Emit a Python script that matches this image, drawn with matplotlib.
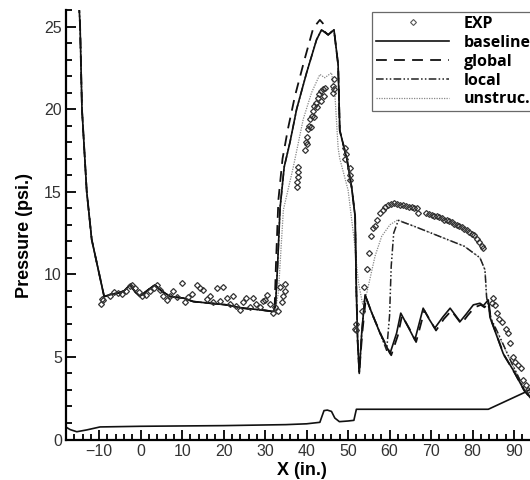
import matplotlib.pyplot as plt
from matplotlib.lines import Line2D
from matplotlib.ticker import MultipleLocator

plt.rcParams['font.family'] = ['Liberation Sans', 'DejaVu Sans']

# experimental points
exp_x = [-9.5, -9.3, -9.0, -7.5, -6.5, -5.4, -4.5, -3.5, -2.6, -2.0, -1.4, -0.5, 0.4, 1.4, 2.3, 3.2,
         3.9, 4.7, 5.5, 6.3, 7.1, 7.9, 8.7, 9.9, 10.7, 11.5, 12.3, 13.5, 14.3, 15.1, 15.9, 16.7,
         17.5, 18.3, 19.1, 19.9, 20.7, 21.5, 22.3, 23.1, 23.9, 24.7, 25.5, 26.3, 27.1, 27.9, 28.8,
         29.6, 30.0, 30.4, 31.2, 32.0, 32.5, 33.0, 33.6, 34.0, 34.4, 34.8, 34.8,
         37.8, 37.8, 37.9, 37.9, 38.0,
         39.6, 39.8, 40.0, 40.3, 40.6, 40.9, 41.2, 41.6, 41.9, 42.3, 42.7, 43.1, 43.5, 43.9, 44.4,
         40.2, 41.0, 41.8, 42.6, 43.4, 44.2,
         46.4, 46.4, 46.5, 46.6, 49.2, 49.4, 49.3, 50.4, 50.5, 50.5,
         51.7, 51.8, 52.0, 53.3, 53.9, 54.6, 55.1, 55.5, 56.0, 56.5, 57.0, 57.7, 58.3, 59.0, 59.7,
         60.4, 61.1, 61.8, 62.5, 63.2, 63.9, 64.6, 65.3, 66.0, 66.5, 66.9, 68.9, 69.5, 70.2, 70.8,
         71.4, 72.0, 72.6, 73.2, 73.8, 74.4, 75.0, 75.6, 76.2, 76.8, 77.4, 78.0, 78.6, 79.2, 79.8,
         80.4, 81.0, 81.6, 82.2, 82.6,
         84.6, 85.0, 85.4, 85.8, 86.5, 87.0, 88.0, 88.6, 89.0, 89.8, 90.2, 91.0, 91.8, 92.2, 93.0, 93.4]
exp_p = [8.2, 8.5, 8.45, 8.7, 8.9, 8.86, 8.8, 9.0, 9.3, 9.36, 9.2, 8.9, 8.7, 8.75, 9.0, 9.2,
         9.36, 9.06, 8.7, 8.45, 8.7, 8.96, 8.6, 9.47, 8.35, 8.6, 8.8, 9.36, 9.2, 9.06, 8.5, 8.7,
         8.3, 9.16, 8.4, 9.26, 8.56, 8.2, 8.66, 8.1, 7.85, 8.3, 8.56, 8.0, 8.56, 8.2, 8.05,
         8.4, 8.45, 8.76, 8.2, 7.65, 8.05, 7.8, 9.26, 8.3, 8.7, 9.0, 9.4,
         15.3, 15.6, 15.9, 16.2, 16.5,
         17.55, 18.0, 18.3, 18.8, 19.0, 19.4, 19.6, 19.9, 20.2, 20.4, 20.7, 20.9, 21.1, 21.2, 21.3,
         17.9, 18.9, 19.5, 20.1, 20.5, 20.8,
         21.0, 21.4, 21.8, 21.2, 17.65, 17.3, 17.0, 16.45, 16.0, 15.7,
         6.7, 7.0, 6.6, 7.75, 9.26, 10.3, 11.3, 12.3, 12.8, 12.9, 13.3, 13.7, 13.9, 14.1, 14.2,
         14.25, 14.3, 14.25, 14.2, 14.2, 14.15, 14.1, 14.05, 14.0, 14.0, 13.7, 13.7, 13.65, 13.6, 13.5,
         13.5, 13.45, 13.4, 13.3, 13.3, 13.2, 13.15, 13.05, 13.0, 12.9, 12.85, 12.75, 12.7, 12.55, 12.45,
         12.35, 12.15, 11.95, 11.7, 11.6,
         8.25, 8.55, 8.15, 7.65, 7.3, 7.14, 6.7, 6.43, 5.83, 5.02, 4.72, 4.5, 4.31, 3.6, 3.3, 3.0]

# baseline
base_x = [-14.9, -14.6, -14.15, -13.0, -11.8, -8.8, -7.0, -5.4, -4.0, -2.6, -1.2, -0.2, 1.5, 3.4, 5.0,
          7.1, 10.3, 12.7, 16.7, 20.7, 24.7, 28.8, 32.0, 32.5, 33.0, 33.6, 34.6, 36.0, 37.6, 40.0,
          42.4, 43.6, 45.2, 46.6, 47.6, 48.0, 49.7, 50.9, 51.7, 52.0, 52.3, 52.7, 53.3, 54.1, 55.5,
          57.7, 60.1, 61.7, 62.7, 64.5, 66.1, 68.1, 69.5, 70.9, 72.8, 74.6, 77.0, 78.5, 80.2, 81.8,
          82.6, 83.8, 84.2, 87.4, 89.8, 92.4, 95.0]
base_p = [26.5, 25.0, 20.0, 15.0, 12.1, 8.65, 8.8, 8.86, 9.0, 9.36, 8.9, 8.66, 9.0, 9.36, 9.0,
          8.66, 8.56, 8.35, 8.25, 8.15, 7.95, 7.85, 7.75, 8.1, 10.5, 14.0, 16.5, 18.0, 20.0, 22.2,
          24.2, 24.8, 24.5, 24.8, 22.7, 18.7, 17.0, 15.2, 13.5, 9.0, 6.0, 4.0, 6.5, 8.76, 7.8,
          6.44, 5.2, 6.44, 7.65, 6.8, 6.03, 7.95, 7.3, 6.74, 7.4, 7.95, 7.14, 7.6, 8.15, 8.25,
          8.1, 8.45, 7.4, 5.2, 4.2, 3.0, 2.2]

# global
glob_x = [-14.9, -14.6, -14.15, -13.0, -11.8, -8.8, -7.0, -5.4, -4.0, -2.6, -1.2, -0.2, 1.5, 3.4, 5.0,
          7.1, 10.3, 12.7, 16.7, 20.7, 24.7, 28.8, 32.0, 32.3, 32.6, 33.2, 34.2, 35.5, 37.2, 39.5,
          41.6, 43.2, 43.9, 44.3, 45.2, 46.6, 47.6, 48.0, 49.7, 50.9, 51.7, 52.0, 52.3, 52.7, 53.4,
          54.3, 55.8, 58.0, 60.4, 62.0, 63.0, 64.8, 66.4, 68.4, 69.8, 71.2, 73.1, 74.9, 77.3, 78.8,
          80.5, 82.0, 82.9, 83.9, 84.4, 87.6, 90.0, 92.5, 95.0]
glob_p = [26.5, 25.0, 20.0, 15.0, 12.1, 8.65, 8.8, 8.86, 9.0, 9.36, 8.9, 8.66, 9.0, 9.36, 9.0,
          8.66, 8.56, 8.35, 8.25, 8.15, 7.95, 7.85, 7.75, 8.0, 10.5, 14.5, 17.0, 18.8, 20.8, 23.0,
          24.9, 25.4, 25.2, 24.7, 24.5, 24.8, 22.7, 18.7, 17.0, 15.2, 13.5, 9.0, 6.0, 4.1, 6.4,
          8.6, 7.6, 6.3, 5.1, 6.3, 7.5, 6.7, 5.9, 7.8, 7.2, 6.6, 7.3, 7.8, 7.0, 7.5,
          8.0, 8.15, 8.0, 8.35, 7.3, 5.1, 4.1, 2.95, 2.2]

# local
loc_x = [-14.9, -14.6, -14.15, -13.0, -11.8, -8.8, -7.0, -5.4, -4.0, -2.6, -1.2, -0.2, 1.5, 3.4, 5.0,
         7.1, 10.3, 12.7, 16.7, 20.7, 24.7, 28.8, 32.0, 32.5, 33.0, 33.6, 34.6, 36.0, 37.6, 40.0,
         42.4, 43.6, 45.2, 46.6, 47.6, 48.0, 49.7, 50.9, 51.7, 52.0, 52.3, 52.7, 53.3, 54.1, 55.5,
         57.7, 59.3, 60.0, 60.4, 61.0, 62.1, 66.0, 70.0, 74.0, 78.0, 81.8, 83.0, 83.4, 84.5, 86.6,
         89.5, 92.4, 95.0]
loc_p = [26.5, 25.0, 20.0, 15.0, 12.1, 8.65, 8.8, 8.86, 9.0, 9.36, 8.9, 8.66, 9.0, 9.36, 9.0,
         8.66, 8.56, 8.35, 8.25, 8.15, 7.95, 7.85, 7.75, 8.1, 10.5, 14.0, 16.5, 18.0, 20.0, 22.2,
         24.2, 24.8, 24.5, 24.8, 22.7, 18.7, 17.0, 15.2, 13.5, 9.0, 6.0, 4.0, 6.5, 8.76, 7.8,
         6.44, 5.4, 7.5, 10.5, 12.5, 13.26, 12.9, 12.5, 12.1, 11.7, 11.0, 10.27, 8.6, 7.3, 6.2,
         4.6, 3.1, 2.2]

# unstructured
uns_x = [-14.9, -14.6, -14.15, -13.0, -11.8, -8.8, -7.0, -5.4, -4.0, -2.6, -1.2, -0.2, 1.5, 3.4, 5.0,
         7.1, 10.3, 12.7, 16.7, 20.7, 24.7, 28.8, 32.0, 32.6, 33.2, 34.4, 36.8, 39.2, 41.2, 43.2,
         44.4, 46.0, 46.8, 47.6, 48.0, 50.0, 51.5, 52.5, 53.5, 54.5, 56.5, 58.1, 60.1, 62.0, 66.0,
         70.0, 74.0, 78.0, 81.8, 83.0, 83.4, 84.5, 86.6, 89.5, 92.4, 95.0]
uns_p = [26.5, 25.0, 20.0, 15.0, 12.1, 8.65, 8.8, 8.86, 9.0, 9.36, 8.9, 8.66, 9.0, 9.36, 9.0,
         8.66, 8.56, 8.35, 8.25, 8.15, 7.95, 7.85, 7.75, 8.0, 8.9, 13.9, 16.5, 19.4, 21.0, 22.1,
         21.9, 22.2, 21.0, 17.65, 17.0, 15.1, 12.0, 9.5, 8.2, 8.86, 11.1, 12.3, 13.0, 13.3, 12.9,
         12.5, 12.1, 11.7, 11.0, 10.27, 8.6, 7.2, 6.1, 4.6, 3.1, 2.2]

# geometry line at bottom
geo_x = [-18.0, -17.0, -15.4, -13.0, -9.8, 0.0, 20.0, 35.0, 40.0, 43.2, 43.7, 44.2, 45.0, 46.0,
         46.8, 47.9, 50.0, 51.4, 51.7, 52.0, 60.0, 70.0, 83.8, 93.0, 95.0]
geo_p = [0.75, 0.6, 0.47, 0.58, 0.76, 0.8, 0.84, 0.9, 0.95, 1.04, 1.4, 1.75, 1.78, 1.7,
         1.3, 1.08, 1.12, 1.16, 1.5, 1.83, 1.83, 1.83, 1.83, 2.9, 3.2]

labels = ['EXP', 'baseline', 'global', 'local', 'unstruc.']

fig = plt.figure(figsize=(5.3, 4.8), dpi=100)
ax = fig.add_axes([66 / 530, 40.5 / 480, 464.6 / 530, 429.5 / 480])

ax.plot(geo_x, geo_p, color='#111', lw=1.2)
ax.plot(uns_x, uns_p, color='#888', lw=0.9, ls=(0, (1, 1)))
ax.plot(loc_x, loc_p, color='#222', lw=1.1, ls=(0, (5, 1.5, 1, 1.5, 1, 1.5)))
ax.plot(glob_x, glob_p, color='#111', lw=1.3, ls=(0, (6, 4)))
ax.plot(base_x, base_p, color='#111', lw=1.2)
ax.plot(exp_x, exp_p, ls='none', marker='D', ms=3.0, mfc='none', mec='#333', mew=0.9)

ax.set_xlim(-18, 94)
ax.set_ylim(0, 26)
ax.xaxis.set_major_locator(MultipleLocator(10))
ax.xaxis.set_minor_locator(MultipleLocator(2))
ax.yaxis.set_major_locator(MultipleLocator(5))
ax.yaxis.set_minor_locator(MultipleLocator(1))
ax.tick_params(which='both', direction='in', top=False, right=False, width=1.3,
               labelsize=11.5, labelcolor='#333', pad=3)
ax.tick_params(which='major', length=7)
ax.tick_params(which='minor', length=4)
ax.spines['top'].set_visible(False)
ax.spines['right'].set_visible(False)
ax.spines['left'].set_linewidth(1.6)
ax.spines['bottom'].set_linewidth(1.6)

ax.set_xlabel('X (in.)', fontsize=13, fontweight='bold')
ax.set_ylabel('Pressure (psi.)', fontsize=13, fontweight='bold')
ax.xaxis.set_label_coords(0.507, -0.052)
ax.yaxis.set_label_coords(-0.072, 0.476)

handles = [
    Line2D([], [], ls='none', marker='D', ms=3.0, mfc='none', mec='#555', mew=0.8),
    Line2D([], [], color='#111', lw=1.2),
    Line2D([], [], color='#111', lw=1.3, ls=(0, (6, 4))),
    Line2D([], [], color='#222', lw=1.1, ls=(0, (5, 1.5, 1, 1.5, 1, 1.5))),
    Line2D([], [], color='#888', lw=0.9, ls=(0, (1, 1))),
]
leg = ax.legend(handles, labels, loc='upper left', bbox_to_anchor=(372 / 530, 1 - 12 / 480),
                bbox_transform=fig.transFigure, frameon=True, fancybox=False,
                edgecolor='#444', handlelength=4.6, handletextpad=0.9, labelspacing=0.18,
                borderpad=0.25, borderaxespad=0,
                prop={'family': 'Open Sans', 'weight': 'bold', 'size': 11.5})
leg.get_frame().set_linewidth(0.9)

fig.savefig('out.png', dpi=100)
